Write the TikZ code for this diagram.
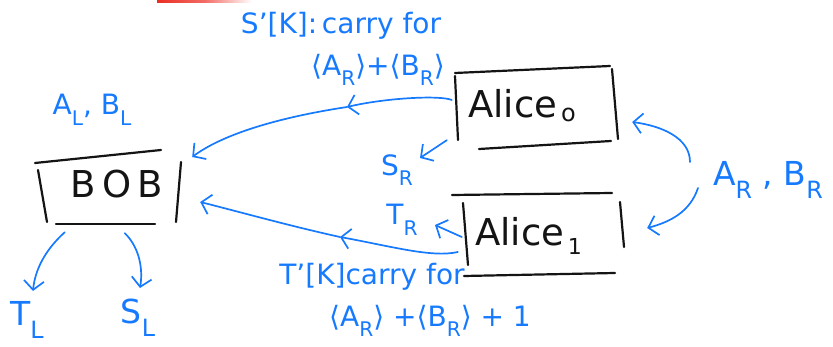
\documentclass[tikz,border=0pt]{standalone}
\usepackage{fontspec}
\setmainfont{DejaVu Sans}
\usetikzlibrary{arrows.meta,calc}
\definecolor{ink}{RGB}{22,122,255}
\definecolor{pen}{RGB}{20,20,20}
\definecolor{marker}{RGB}{235,45,35}
% handwritten-style subscript: large and dropped low
\newcommand{\sbs}[1]{\raisebox{-0.38em}{\scalebox{0.72}{#1}}}
\tikzset{
  lbl/.style={text=ink, inner sep=0pt, font=\fontsize{28}{30}\selectfont},
  biglbl/.style={lbl, font=\fontsize{33}{35}\selectfont},
  boxtext/.style={text=pen, inner sep=0pt, font=\fontsize{37}{39}\selectfont},
  frame/.style={draw=pen, line width=2.2pt, line cap=round},
  flow/.style={draw=ink, line width=1.7pt, line cap=round,
    -{Straight Barb[length=9pt,width=20pt,line width=1.7pt]}},
  anchorbox/.style={inner sep=0pt, minimum width=#1},
}
\begin{document}
\begin{tikzpicture}[x=1pt,y=-1pt]
\useasboundingbox (0,0) rectangle (833,347);
\fill[white] (0,0) rectangle (833,347);

% red marker stroke at the top edge
\shade[left color=marker, right color=white, middle color=marker!70]
  (157,0) rectangle (252,2.5);

% ---- boxes (text nodes; frames drawn stroke by stroke) ----
\node[anchorbox=140pt, minimum height=70pt] (bob) at (110,188) {};
\node[boxtext] (bobtxt) at (117,184) {B\,O\,B};
\draw[frame] (35,163) -- (161,150);
\draw[frame] (38,170) -- (47,222);
\draw[frame] (181,162) -- (176,222);
\draw[frame] (56,224) -- (155,224);

\node[anchorbox=160pt, minimum height=72pt] (alice0) at (535,105) {};
\node[boxtext, anchor=base west] (a0txt) at (468,118) {Alice\raisebox{-4pt}{\fontsize{24}{26}\selectfont\,o}};
\draw[frame] (455,73) -- (610,66);
\draw[frame] (455,76) -- (458,140);
\draw[frame] (612,69) -- (618,139);
\draw[frame] (479,149) -- (611,141);

\node[anchorbox=160pt, minimum height=78pt] (alice1) at (542,235) {};
\node[boxtext, anchor=base west] (a1txt) at (475,246) {Alice\raisebox{-9pt}{\fontsize{22}{24}\selectfont\,1}};
\draw[frame] (452,195) -- (612,193);
\draw[frame] (463,203) -- (468,265);
\draw[frame] (620,202) -- (624,247);
\draw[frame] (464,276) -- (615,273);

% ---- labels ----
\node[lbl] (sk) at (341,26) {S'[K]:\,carry for};
\node[lbl] (sksum) at (378,70) {⟨A\sbs{R}⟩+⟨B\sbs{R}⟩};
\node[lbl] (al) at (92,110) {A\sbs{L}, B\sbs{L}};
\node[lbl] (sr) at (397,170) {S\sbs{R}};
\node[lbl] (tr) at (402,220) {T\sbs{R}};
\node[lbl] (tk) at (372,277) {T'[K]carry for};
\node[lbl] (tksum) at (430,321) {⟨A\sbs{R}⟩ +⟨B\sbs{R}⟩ + 1};
\node[biglbl] (ar) at (768,180) {A\sbs{R} , B\sbs{R}};
\node[biglbl] (tl) at (27,320) {T\sbs{L}};
\node[biglbl] (sl) at (138,318) {S\sbs{L}};

% ---- connectors ----
% S'[K] from Alice0 to Bob, with a mid-arrow
\coordinate (m0) at (347,107);
\draw[flow] ($(alice0.west)+(-3,-5)$) .. controls (440,95) and (385,98) .. (m0);
\draw[flow] (m0) .. controls (275,118) and (222,135) .. ($(bob.east)+(12,-31)$);
% S_R out of Alice0
\draw[flow] ($(alice0.south west)+(-8,-1)$) -- (420,158);
% T'[K] from Alice1 to Bob, with a mid-arrow
\coordinate (m1) at (340,237);
\draw[flow] ($(alice1.west)+(-4,17)$) .. controls (432,258) and (390,246) .. (m1);
\draw[flow] (m1) .. controls (290,226) and (240,212) .. ($(bob.east)+(20,14)$);
% T_R out of Alice1
\draw[flow] ($(alice1.west)+(0,2)$) -- (435,225);
% inputs A_R, B_R into both Alices
\draw[flow] (690,162) .. controls (690,138) and (662,126) .. ($(alice0.east)+(17,17)$);
\draw[flow] (698,188) .. controls (690,212) and (670,222) .. ($(alice1.east)+(25,-7)$);
% Bob's outputs
\draw[flow] ($(bob.south west)+(25,9)$) .. controls (45,250) and (35,270) .. (33,291);
\draw[flow] ($(bob.south west)+(85,10)$) .. controls (140,248) and (143,270) .. (140,288);
\end{tikzpicture}
\end{document}
